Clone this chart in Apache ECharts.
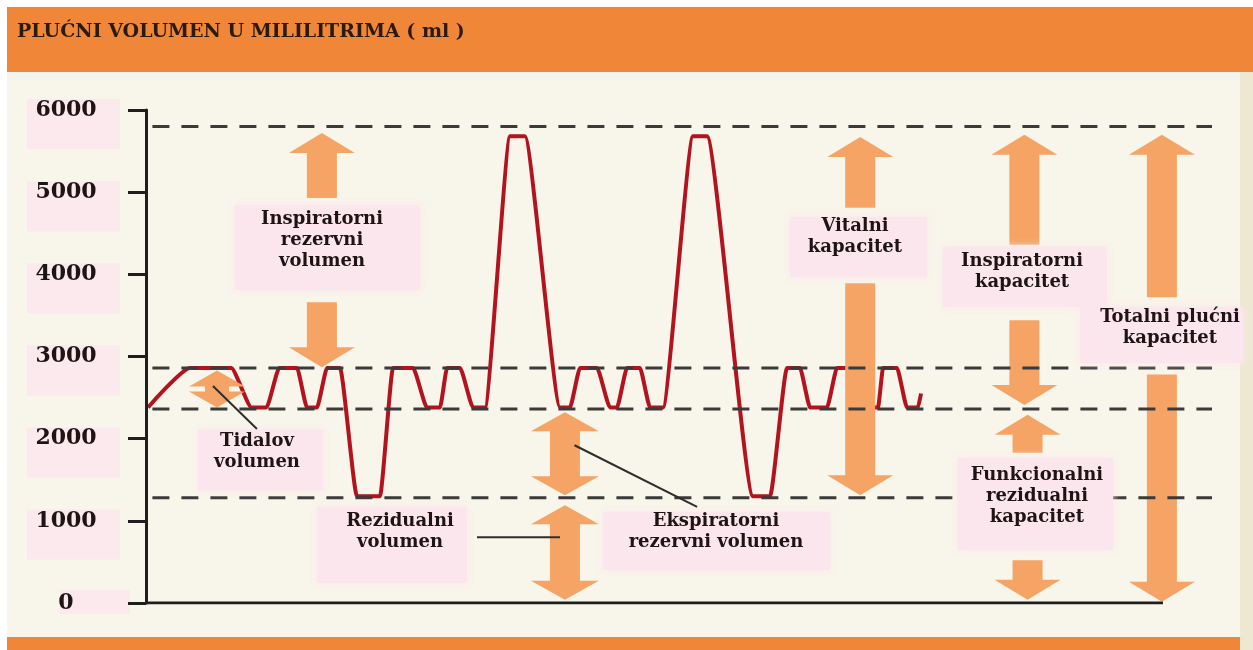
<!DOCTYPE html>
<html><head><meta charset="utf-8">
<script src="https://cdn.jsdelivr.net/npm/echarts@6/dist/echarts.min.js"></script>
<style>
html,body{margin:0;padding:0;background:#fff;width:1253px;height:650px;overflow:hidden;}
#bgTop{position:absolute;left:7px;top:7px;width:1246px;height:65px;background:#F08638;}
#bgStrip{position:absolute;left:7px;top:72px;width:1233px;height:8px;background:#F3F4EE;}
#bgMain{position:absolute;left:7px;top:80px;width:1233px;height:557px;background:#F8F5EA;}
#bgRight{position:absolute;left:1240px;top:72px;width:13px;height:578px;background:#EEE8D3;}
#bgBottom{position:absolute;left:7px;top:637px;width:1233px;height:13px;background:#F08638;}
#chart{position:absolute;left:0;top:0;width:1253px;height:650px;}
</style></head>
<body>
<div id="bgTop"></div><div id="bgStrip"></div><div id="bgMain"></div><div id="bgRight"></div><div id="bgBottom"></div>
<div id="chart"></div>
<script>
// ---- data (time in arbitrary units, volume in ml) ----
const titleText = 'PLUĆNI VOLUMEN U MILILITRIMA ( ml )';
const yTicks = [0, 1000, 2000, 3000, 4000, 5000, 6000];
const breathTime = [0.19, 4.13, 6.2, 8.0, 9.9, 11.3, 12.5, 14.17, 15.10, 16.04, 16.98, 18.20, 19.79, 21.95, 23.17, 25.05,
  26.36, 27.58, 28.24, 29.46, 30.68, 31.80, 34.15, 35.55, 38.84, 39.77, 40.71, 42.31, 43.53, 44.18, 45.12, 46.34,
  47.28, 48.50, 51.31, 52.63, 56.94, 58.54, 60.13, 61.35, 62.29, 63.88, 64.82, 66.04, 67.17, 68.67, 69.14, 70.45,
  71.39, 72.42, 72.70];
const breathVolume = [2380, 2860, 2860, 2860, 2380, 2380, 2860, 2860, 2380, 2380, 2860, 2860, 1300, 1300, 2860, 2860,
  2380, 2380, 2860, 2860, 2380, 2380, 5680, 5680, 2380, 2380, 2860, 2860, 2380, 2380, 2860, 2860,
  2380, 2380, 5680, 5680, 1300, 1300, 2860, 2860, 2380, 2380, 2860, 2860, 2380, 2380, 2860, 2860,
  2380, 2380, 2550];
const dashLevels = [5800, 2860, 2360, 1280];
const dashSpan = [0.6, 100];
const baselineSpan = [0, 95.4];
// single arrows: [time, tail volume, tip volume]
const arrowTime = [16.5, 16.5, 67.0, 67.0, 82.4, 82.4, 82.7, 82.7, 95.3, 95.3];
const arrowTail = [4930, 3660, 4810, 3890, 4360, 3440, 1830, 520, 3720, 2780];
const arrowTip  = [5720, 2870, 5670, 1310, 5700, 2410, 2290, 40, 5700, 15];
// double arrows: [time, end A, end B]
const dblTime = [39.3, 39.3];
const dblA = [2320, 1190];
const dblB = [1310, 40];
const tidalArrow = [[6.66, 2830, 2380]];
// labels
const labelTexts = ['Inspiratorni\nrezervni\nvolumen', 'Tidalov\nvolumen', 'Rezidualni\nvolumen',
  'Ekspiratorni\nrezervni volumen', 'Vitalni\nkapacitet', 'Inspiratorni\nkapacitet',
  'Funkcionalni\nrezidualni\nkapacitet', 'Totalni plućni\nkapacitet'];
const labelTime = [16.51, 10.41, 23.83, 53.47, 66.51, 82.18, 83.58, 96.06];
const labelVolume = [4418, 1838, 864, 864, 4454, 4028, 1302, 3347];
// leader lines
const leaderTidal = [[6.28, 2640], [10.41, 2117]];
const leaderERV = [[40.2, 1920], [51.7, 1170]];
const leaderRV = [[31.05, 800], [38.84, 800]];

// ---- styles ----
const ORANGE = '#F5A466';
const PINK = '#FBE6EE';
const FONT = '"DejaVu Serif", "Liberation Serif", serif';
// label box offsets relative to text centre: [dx, dy, w, h]
const labelBoxes = [[-87, -35, 185, 85], [-59, -22, 125, 60], [-83, -25, 150, 76], [-113, -20, 227, 58],
  [-65, -20, 137, 60], [-79, -25, 164, 60], [-79, -38, 155, 92], [-90, -21, 163, 56]];

function arrowRenderer(sz, dbl) {
  return function (params, api) {
    const x = api.value(0), a = api.value(1), b = api.value(2);
    const p0 = api.coord([x, a]), p1 = api.coord([x, b]);
    const cx = p0[0], y0 = p0[1], y1 = p1[1];
    const d = y1 > y0 ? 1 : -1;
    const sw = sz.shaft / 2, hw = sz.head / 2, hl = sz.len;
    let pts;
    if (!dbl) {
      const yb = y1 - d * hl;
      pts = [[cx - sw, y0], [cx - sw, yb], [cx - hw, yb], [cx, y1], [cx + hw, yb], [cx + sw, yb], [cx + sw, y0]];
    } else {
      const ya = y0 + d * hl, yb = y1 - d * hl;
      pts = [[cx, y0], [cx + hw, ya], [cx + sw, ya], [cx + sw, yb], [cx + hw, yb], [cx, y1],
             [cx - hw, yb], [cx - sw, yb], [cx - sw, ya], [cx - hw, ya]];
    }
    return { type: 'polygon', shape: { points: pts }, style: { fill: ORANGE } };
  };
}

const chart = echarts.init(document.getElementById('chart'), null, { renderer: 'canvas' });
const series = [];
// pink boxes behind y labels
series.push({
  type: 'custom', z: 1, silent: true, animation: false,
  data: yTicks.map(v => [0, v]),
  renderItem: function (params, api) {
    const p = api.coord([0, api.value(1)]);
    const isZero = api.value(1) === 0;
    return { type: 'rect', shape: isZero ? { x: p[0] - 86, y: p[1] - 13, width: 70, height: 24 } :
      { x: p[0] - 119, y: p[1] - 11, width: 93, height: 50 },
      style: { fill: PINK, opacity: 0.85 } };
  }
});
// breathing trace
series.push({
  type: 'line', z: 2, silent: true, animation: false, symbol: 'none', smooth: 0.18, smoothMonotone: 'x',
  data: breathTime.map((t, i) => [t, breathVolume[i]]),
  lineStyle: { color: '#B3121F', width: 4 }
});
// arrows
series.push({
  type: 'custom', z: 3, silent: true, animation: false,
  data: arrowTime.map((t, i) => [t, arrowTail[i], arrowTip[i]]),
  renderItem: arrowRenderer({ shaft: 30, head: 66, len: 20 }, false)
});
series.push({
  type: 'custom', z: 3, silent: true, animation: false,
  data: dblTime.map((t, i) => [t, dblA[i], dblB[i]]),
  renderItem: arrowRenderer({ shaft: 30, head: 68, len: 19 }, true)
});
series.push({
  type: 'custom', z: 3, silent: true, animation: false,
  data: tidalArrow,
  renderItem: arrowRenderer({ shaft: 24, head: 56, len: 16 }, true)
});
// dashed levels
dashLevels.forEach(v => series.push({
  type: 'line', z: 4, silent: true, animation: false, symbol: 'none',
  data: [[dashSpan[0], v], [dashSpan[1], v]],
  lineStyle: { color: '#3A3A3A', width: 3, type: [17, 12] }
}));
// baseline (x axis)
series.push({
  type: 'line', z: 4, silent: true, animation: false, symbol: 'none',
  data: [[baselineSpan[0], 0], [baselineSpan[1], 0]],
  lineStyle: { color: '#1E1E1E', width: 3 }
});
// labels
series.push({
  type: 'custom', z: 5, silent: true, animation: false,
  data: labelTime.map((t, i) => [t, labelVolume[i]]),
  renderItem: function (params, api) {
    const i = params.dataIndex;
    const p = api.coord([api.value(0), api.value(1)]);
    const b = labelBoxes[i];
    return { type: 'group', children: [
      { type: 'rect', shape: { x: p[0] + b[0], y: p[1] + b[1], width: b[2], height: b[3] },
        style: { fill: PINK, shadowBlur: 8, shadowColor: PINK } },
      { type: 'text', x: p[0], y: p[1], style: { text: labelTexts[i], fill: '#1E1414',
        font: 'bold 18px ' + FONT, align: 'center', verticalAlign: 'middle', lineHeight: 21 } }
    ] };
  }
});
// leader lines
[leaderTidal, leaderERV, leaderRV].forEach(d => series.push({
  type: 'line', z: 6, silent: true, animation: false, symbol: 'none', data: d,
  lineStyle: { color: '#2E2E2E', width: 2 }
}));

chart.setOption({
  animation: false,
  title: { text: titleText, left: 17, top: 23, padding: 0,
    textStyle: { fontFamily: FONT, fontWeight: 'bold', fontSize: 19, color: '#2A1A10' } },
  grid: { left: 146, top: 110, width: 1066, height: 493, containLabel: false },
  xAxis: { type: 'value', min: 0, max: 100, show: false },
  yAxis: {
    type: 'value', min: 0, max: 6000, interval: 1000, z: 10,
    axisLine: { show: true, lineStyle: { color: '#1E1E1E', width: 3 } },
    axisTick: { show: true, length: 18, lineStyle: { color: '#1E1E1E', width: 3 } },
    axisLabel: { margin: 80, align: 'center', fontFamily: FONT, fontWeight: 'bold', fontSize: 22, color: '#1E1414',
      formatter: function (v) { return String(v); } },
    splitLine: { show: false }
  },
  series: series
});
</script>
</body></html>
